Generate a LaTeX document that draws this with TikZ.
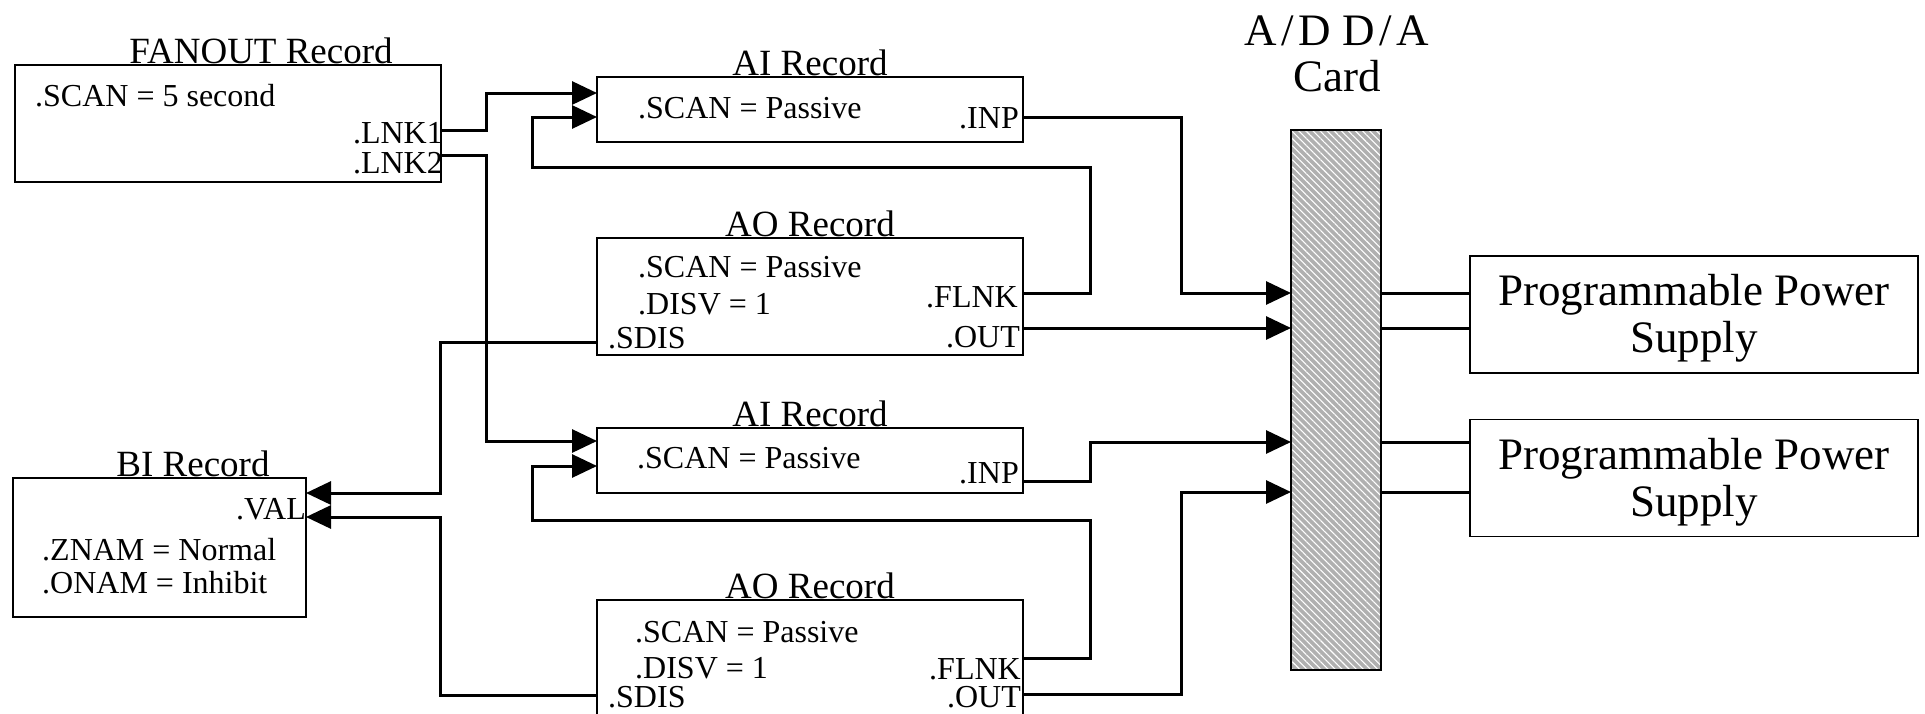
\documentclass[tikz,border=0pt]{standalone}
\usepackage{fontspec}
\setmainfont{Liberation Serif}
\usetikzlibrary{arrows.meta,patterns.meta}

\tikzset{
  rec/.style={draw, line width=2.3pt, rectangle, inner sep=0pt},
  psbox/.style={draw, line width=1.4pt, rectangle, inner sep=0pt},
  link/.style={line width=3pt, -{Triangle[length=25pt,width=23pt]}},
  wire/.style={line width=3pt},
  ttl/.style={anchor=base, inner sep=0pt, font=\fontsize{37}{42}\selectfont},
  fld/.style={anchor=base west, inner sep=0pt, font=\fontsize{32}{36}\selectfont},
  port/.style={anchor=base east, inner sep=0pt, font=\fontsize{32}{36}\selectfont},
  big/.style={anchor=base, inner sep=0pt, font=\fontsize{45}{50}\selectfont},
}

\begin{document}
\begin{tikzpicture}[x=1pt, y=-1pt]
\useasboundingbox (0,0) rectangle (1925,713);
\clip (0,0) rectangle (1925,713);

% ---------- record boxes ----------
\node[rec, minimum width=426pt, minimum height=117pt] (fanout) at (228,123.5) {};
\node[rec, minimum width=426pt, minimum height=65pt]  (ai1)    at (810,109.5) {};
\node[rec, minimum width=426pt, minimum height=117pt] (ao1)    at (810,296.5) {};
\node[rec, minimum width=426pt, minimum height=65pt]  (ai2)    at (810,460.5) {};
\node[rec, minimum width=426pt, minimum height=117pt] (ao2)    at (810,658.5) {};
\node[rec, minimum width=293pt, minimum height=139pt] (bi)     at (159.5,547.5) {};

% ---------- A/D D/A card ----------
\node[preaction={fill=gray!62},
      pattern={Lines[angle=-45,distance=5pt,line width=1.1pt]}, pattern color=white,
      draw, line width=2.3pt, inner sep=0pt,
      minimum width=90pt, minimum height=540pt] (card) at (1336,400) {};
\node[big] (cardt1) at (1337,45) {A\kern4.5pt/\kern4.5pt D D\kern4.5pt/\kern4.5pt A};
\node[big] (cardt2) at (1337,91) {Card};

% ---------- power supplies ----------
\node[psbox, minimum width=448pt, minimum height=117pt] (ps1) at (1694,314.5) {};
\node[psbox, minimum width=448pt, minimum height=117pt] (ps2) at (1694,478) {};
\node[big] (ps1a) at (1694,305) {Programmable Power};
\node[big] (ps1b) at (1694,352) {Supply};
\node[big] (ps2a) at (1694,469) {Programmable Power};
\node[big] (ps2b) at (1694,516) {Supply};

% ---------- titles ----------
\node[ttl] (fanoutt) at (261,63)  {FANOUT Record};
\node[ttl] (ai1t)    at (810,75)  {AI Record};
\node[ttl] (ao1t)    at (810,236) {AO Record};
\node[ttl] (ai2t)    at (810,426) {AI Record};
\node[ttl] (ao2t)    at (810,598) {AO Record};
\node[ttl] (bit)     at (193,476) {BI Record};

% ---------- field texts ----------
\node[fld]  (fscan) at (35,106)  {.SCAN = 5 second};
\node[port] (flnk1) at (443,143) {.LNK1};
\node[port] (flnk2) at (443,173) {.LNK2};

\node[fld]  (a1scan) at (638,118)  {.SCAN = Passive};
\node[port] (a1inp)  at (1019,128) {.INP};

\node[fld]  (o1scan) at (638,277)  {.SCAN = Passive};
\node[fld]  (o1disv) at (638,314)  {.DISV = 1};
\node[port] (o1flnk) at (1018,307) {.FLNK};
\node[fld]  (o1sdis) at (608,348)  {.SDIS};
\node[port] (o1out)  at (1020,347) {.OUT};

\node[fld]  (a2scan) at (637,468)  {.SCAN = Passive};
\node[port] (a2inp)  at (1019,483) {.INP};

\node[fld]  (o2scan) at (635,642)  {.SCAN = Passive};
\node[fld]  (o2disv) at (635,678)  {.DISV = 1};
\node[port] (o2flnk) at (1021,679) {.FLNK};
\node[fld]  (o2sdis) at (608,707)  {.SDIS};
\node[port] (o2out)  at (1021,707) {.OUT};

\node[port] (bval)  at (306,519) {.VAL};
\node[fld]  (bznam) at (42,560)  {.ZNAM = Normal};
\node[fld]  (bonam) at (42,593)  {.ONAM = Inhibit};

% ---------- ports ----------
\coordinate (lnk1p)  at (441,130);
\coordinate (lnk2p)  at (441,155);
\coordinate (ai1in1) at (597,93);
\coordinate (ai1in2) at (597,117);
\coordinate (ai1inp) at (1023,117);
\coordinate (ao1flk) at (1023,293);
\coordinate (ao1out) at (1023,328);
\coordinate (ao1sds) at (597,342);
\coordinate (ai2in1) at (597,441);
\coordinate (ai2in2) at (597,466);
\coordinate (ai2inp) at (1023,481);
\coordinate (ao2flk) at (1023,658);
\coordinate (ao2out) at (1023,694);
\coordinate (ao2sds) at (597,695);
\coordinate (bival1) at (306,493);
\coordinate (bival2) at (306,517);
\coordinate (cin1) at (1291,293);
\coordinate (cin2) at (1291,328);
\coordinate (cin3) at (1291,442);
\coordinate (cin4) at (1291,492);
\coordinate (cout1) at (1381,293);
\coordinate (cout2) at (1381,328);
\coordinate (cout3) at (1381,442);
\coordinate (cout4) at (1381,492);
\coordinate (ps1a1) at (1470,293);
\coordinate (ps1a2) at (1470,328);
\coordinate (ps2a1) at (1470,442);
\coordinate (ps2a2) at (1470,492);

% ---------- forward links ----------
\draw[link] (lnk1p) -- ++(45,0) |- (ai1in1);
\draw[link] (lnk2p) -- ++(45,0) |- (ai2in1);

% ---------- processing chains ----------
\draw[link] (ao1flk) -- ++(67,0) |- (532,167) |- (ai1in2);
\draw[link] (ao2flk) -- ++(67,0) |- (532,520) |- (ai2in2);

% ---------- disable links to the BI record ----------
\draw[link] (ao1sds) -- ++(-157,0) |- (bival1);
\draw[link] (ao2sds) -- ++(-157,0) |- (bival2);

% ---------- hardware links to the card ----------
\draw[link] (ai1inp) -- ++(158,0) |- (cin1);
\draw[link] (ao1out) -- (cin2);
\draw[link] (ai2inp) -- ++(67,0) |- (cin3);
\draw[link] (ao2out) -- ++(158,0) |- (cin4);

% ---------- card to power supplies ----------
\draw[wire] (cout1) -- (ps1a1);
\draw[wire] (cout2) -- (ps1a2);
\draw[wire] (cout3) -- (ps2a1);
\draw[wire] (cout4) -- (ps2a2);
\end{tikzpicture}
\end{document}
